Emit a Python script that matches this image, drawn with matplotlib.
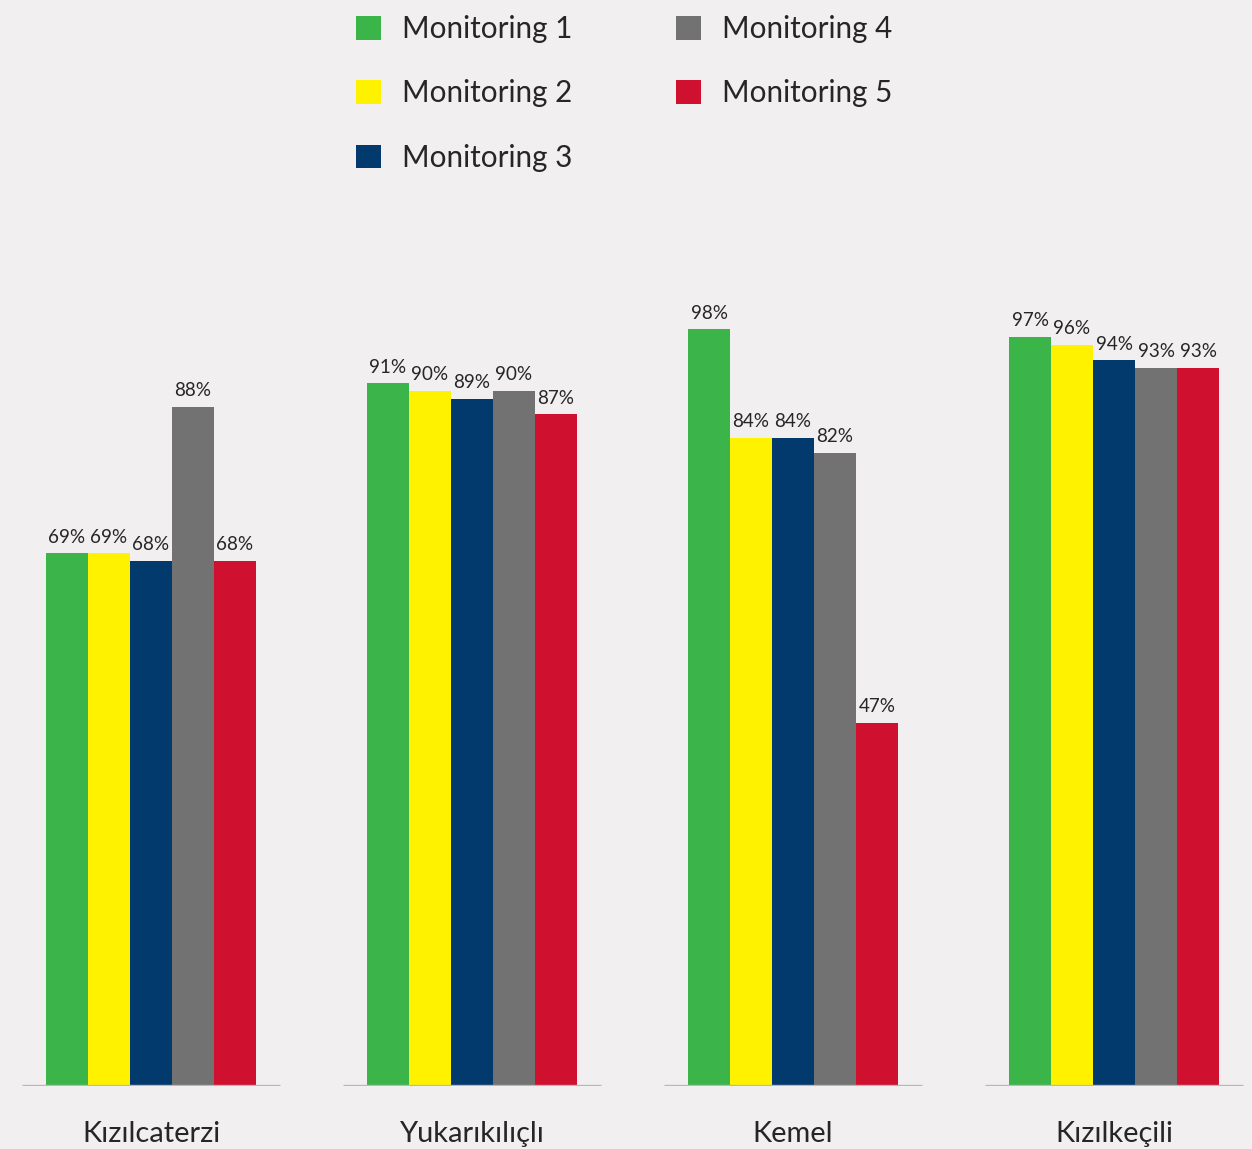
import matplotlib
matplotlib.use("Agg")
import matplotlib.pyplot as plt
import numpy as np

categories = ["Kızılcaterzi", "Yukarıkılıçlı", "Kemel", "Kızılkeçili"]
series_names = ["Monitoring 1", "Monitoring 2", "Monitoring 3", "Monitoring 4", "Monitoring 5"]
m1 = [69, 91, 98, 97]
m2 = [69, 90, 84, 96]
m3 = [68, 89, 84, 94]
m4 = [88, 90, 82, 93]
m5 = [68, 87, 47, 93]
series = [m1, m2, m3, m4, m5]
colors = ["#3bb44a", "#fff200", "#033a6e", "#727272", "#cf112f"]

bg = "#f1eff0"
plt.rcParams['font.family'] = ['Lato', 'DejaVu Sans']

W, H = 1252, 1149
fig = plt.figure(figsize=(W / 100, H / 100), dpi=100, facecolor=bg)
base_px = 1086
ax = fig.add_axes([0, (H - base_px) / H, 1, base_px / H])
ax.set_facecolor(bg)
ppu = 321.0
ax.set_xlim(-151 / ppu, (W - 151) / ppu)
ax.set_ylim(0, base_px / 7.72)
for s in ax.spines.values():
    s.set_visible(False)
ax.set_xticks([])
ax.set_yticks([])

x = np.arange(len(categories))
bw = 42 / ppu
for i, (vals, name, c) in enumerate(zip(series, series_names, colors)):
    pos = x + (i - 2) * bw
    bars = ax.bar(pos, vals, width=bw, color=c, label=name, zorder=2)
    for p, v in zip(pos, vals):
        ax.text(p, v + 1.0, f"{v}%", ha="center", va="bottom", fontsize=13.6,
                color="#262626")

for xi, cat in zip(x, categories):
    ax.hlines(0, xi - 129 / ppu, xi + 129 / ppu, color="#b8b8b8", lw=2.4, zorder=3)
    ax.text(xi, -48 / 7.72, cat, ha="center", va="center", fontsize=20.9,
            color="#262626", clip_on=False)

fs = 21.3
leg = fig.legend(loc="upper left", bbox_to_anchor=(356 / W, 1 - 15 / H), ncol=2,
                 frameon=False, fontsize=fs, handlelength=0.85, handleheight=0.85,
                 handletextpad=0.7, labelspacing=1.23, columnspacing=3.5,
                 borderaxespad=0, borderpad=0)
for t in leg.get_texts():
    t.set_color("#262626")

fig.savefig("out.png", dpi=100, facecolor=bg)
